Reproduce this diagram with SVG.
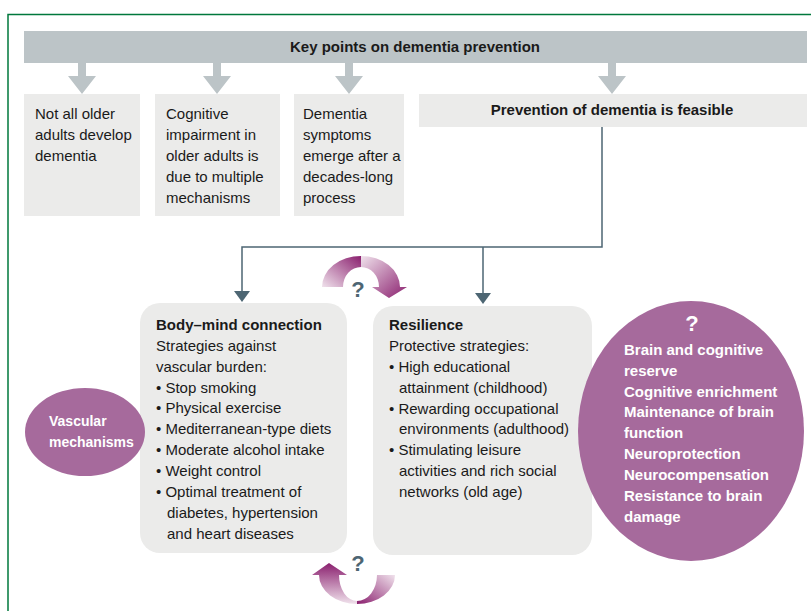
<svg xmlns="http://www.w3.org/2000/svg" width="811" height="611" viewBox="0 0 811 611">
<style>
text{font-family:"Liberation Sans","DejaVu Sans",sans-serif;font-size:15px;fill:#1a1a1a}
.b{font-weight:bold}
.w{fill:#ffffff;font-weight:bold}
.box{fill:#ebebea}
.gar{fill:#bcc4c7}
.conn{stroke:#4d6673;stroke-width:1.5;fill:none}
.ahd{fill:#4d6673}
.q{font-weight:bold;font-size:22px;fill:#4d6673}
.ell{fill:#a66a9c}
</style>
<defs>
<linearGradient id="g1" x1="0" y1="1" x2="1" y2="0"><stop offset="0" stop-color="#f0e2ec"/><stop offset="1" stop-color="#8a1f6e"/></linearGradient>
<linearGradient id="g2" x1="0" y1="0" x2="1" y2="1"><stop offset="0" stop-color="#f0e2ec"/><stop offset="1" stop-color="#8a1f6e"/></linearGradient>
<linearGradient id="g3" x1="0" y1="1" x2="0" y2="0"><stop offset="0" stop-color="#f0e2ec"/><stop offset="1" stop-color="#8a1f6e"/></linearGradient>
<linearGradient id="g4" x1="0" y1="1" x2="1" y2="0"><stop offset="0" stop-color="#8a1f6e"/><stop offset="1" stop-color="#f0e2ec"/></linearGradient>
</defs>
<path d="M8,611 L8,14.5 L811,14.5" fill="none" stroke="#00783c" stroke-width="1.5"/>

<g id="header">
<rect x="24" y="31" width="783" height="32" fill="#bcc4c7"/>
<text x="415" y="52" text-anchor="middle" class="b">Key points on dementia prevention</text>
</g>
<g id="header-arrows">
<path class="gar" d="M78,63 h8 v13 h10 l-14,18 l-14,-18 h10 Z"/>
<path class="gar" d="M213,63 h8 v13 h10 l-14,18 l-14,-18 h10 Z"/>
<path class="gar" d="M345,63 h8 v13 h10 l-14,18 l-14,-18 h10 Z"/>
<path class="gar" d="M608,63 h8 v13 h10 l-14,18 l-14,-18 h10 Z"/>
</g>

<g id="box1"><rect class="box" x="24" y="94" width="116" height="122"/>
<text x="35" y="119">Not all older</text><text x="35" y="140">adults develop</text><text x="35" y="161">dementia</text></g>
<g id="box2"><rect class="box" x="155" y="94" width="125" height="122"/>
<text x="166" y="119">Cognitive</text><text x="166" y="140">impairment in</text><text x="166" y="161">older adults is</text><text x="166" y="182">due to multiple</text><text x="166" y="203">mechanisms</text></g>
<g id="box3"><rect class="box" x="294" y="94" width="110" height="122"/>
<text x="303" y="119">Dementia</text><text x="303" y="140">symptoms</text><text x="303" y="161">emerge after a</text><text x="303" y="182">decades-long</text><text x="303" y="203">process</text></g>
<g id="box4"><rect class="box" x="419" y="94" width="388" height="33"/>
<text x="612" y="115" text-anchor="middle" class="b">Prevention of dementia is feasible</text></g>

<g id="connectors">
<path class="conn" d="M602,127 V247 H242 V292"/>
<path class="conn" d="M483,247 V294"/>
<path class="ahd" d="M234,291 L250,291 L242,302 Z"/>
<path class="ahd" d="M475,293 L491,293 L483,304 Z"/>
</g>

<g id="cycle-top">
<path fill="url(#g1)" d="M322,287 A39,31 0 0 1 361,256 L361,267 A18,20 0 0 0 343,287 Z"/>
<path fill="url(#g2)" d="M361,256 A39,31 0 0 1 400,287 L407,287 L389,298 L372,287 L379,287 A18,20 0 0 0 361,267 Z"/>
<text x="358" y="297" text-anchor="middle" class="q">?</text>
</g>

<g id="body-mind">
<rect class="box" x="140" y="303" width="207" height="250" rx="20"/>
<text x="156" y="330" class="b">Body–mind connection</text>
<text x="156" y="351">Strategies against</text>
<text x="156" y="372">vascular burden:</text>
<text x="156" y="393">• Stop smoking</text>
<text x="156" y="413">• Physical exercise</text>
<text x="156" y="434">• Mediterranean-type diets</text>
<text x="156" y="455">• Moderate alcohol intake</text>
<text x="156" y="476">• Weight control</text>
<text x="156" y="497">• Optimal treatment of</text>
<text x="167" y="518">diabetes, hypertension</text>
<text x="167" y="539">and heart diseases</text>
</g>

<g id="resilience">
<rect class="box" x="373" y="306" width="219" height="249" rx="20"/>
<text x="389" y="330" class="b">Resilience</text>
<text x="389" y="351">Protective strategies:</text>
<text x="389" y="372">• High educational</text>
<text x="399" y="393">attainment (childhood)</text>
<text x="389" y="414">• Rewarding occupational</text>
<text x="399" y="434">environments (adulthood)</text>
<text x="389" y="455">• Stimulating leisure</text>
<text x="399" y="476">activities and rich social</text>
<text x="399" y="497">networks (old age)</text>
</g>

<g id="vascular">
<ellipse class="ell" cx="85" cy="432" rx="60" ry="44"/>
<text x="49" y="426" class="w" style="font-size:14px">Vascular</text>
<text x="49" y="447" class="w" style="font-size:14px">mechanisms</text>
</g>

<g id="reserve">
<ellipse class="ell" cx="691" cy="431" rx="113" ry="130"/>
<text x="692" y="331" text-anchor="middle" class="w" style="font-size:22px">?</text>
<text x="624" y="355" class="w">Brain and cognitive</text>
<text x="624" y="376" class="w">reserve</text>
<text x="624" y="397" class="w">Cognitive enrichment</text>
<text x="624" y="417" class="w">Maintenance of brain</text>
<text x="624" y="438" class="w">function</text>
<text x="624" y="459" class="w">Neuroprotection</text>
<text x="624" y="480" class="w">Neurocompensation</text>
<text x="624" y="501" class="w">Resistance to brain</text>
<text x="624" y="522" class="w">damage</text>
</g>

<g id="cycle-bottom">
<path fill="url(#g3)" d="M357,604 A38,29 0 0 1 319,575 L312,575 L329,563 L347,575 L339,575 A18,26 0 0 0 357,601 Z"/>
<path fill="url(#g4)" d="M357,604 A38,29 0 0 0 395,575 L377,575 A20,26 0 0 1 357,601 Z"/>
<text x="358" y="571" text-anchor="middle" class="q">?</text>
</g>
</svg>
